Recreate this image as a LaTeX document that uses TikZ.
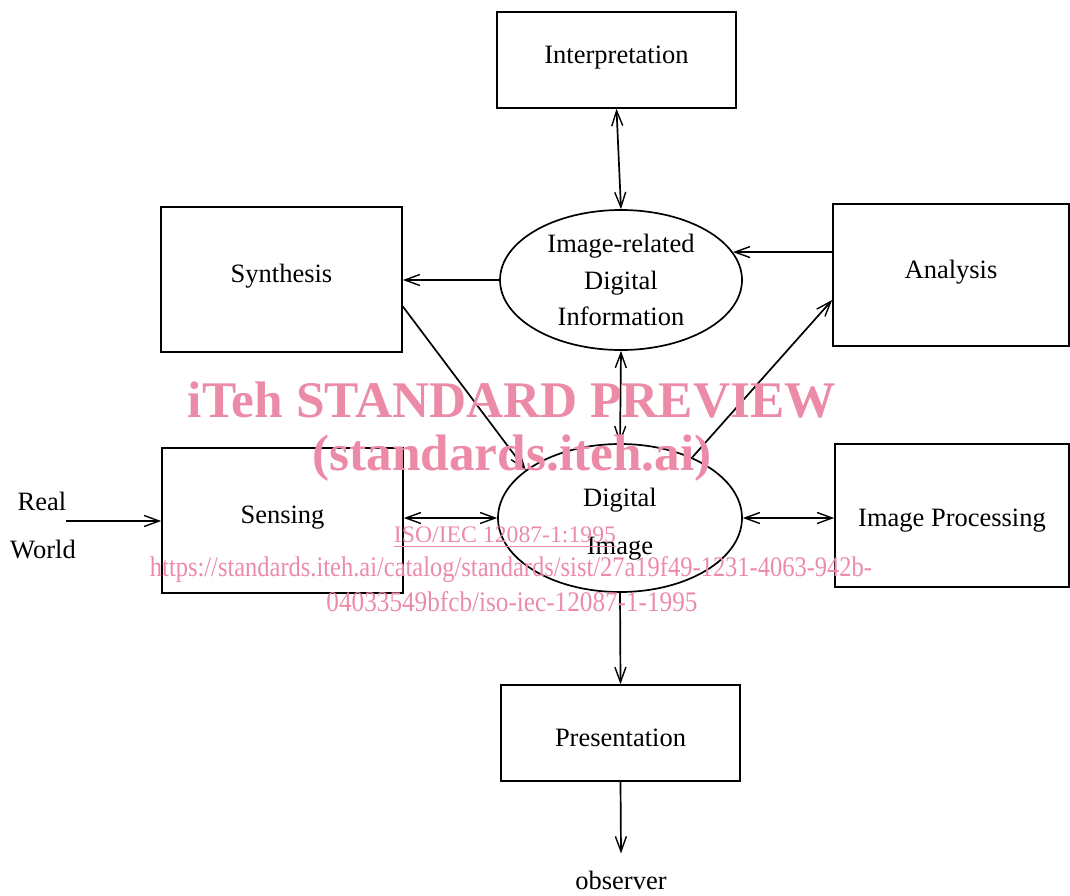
\documentclass[tikz,border=0pt]{standalone}
\usepackage{fontspec}
\setmainfont{Liberation Serif}
\usetikzlibrary{arrows.meta,shapes.geometric}
\definecolor{wm}{RGB}{236,139,168}
\tikzset{
  line/.style={line width=1.7pt},
  tip/.tip={Straight Barb[length=15pt,width=11pt,line width=1.4pt]},
  arr/.style={line, -tip},
  darr/.style={line, tip-tip},
  box/.style={draw, line, inner sep=0pt, font=\fontsize{26.5}{37}\selectfont, text height=12pt, text depth=6pt},
  oval/.style={draw, line, ellipse, inner sep=0pt},
  lbl/.style={font=\fontsize{26.5}{32}\selectfont, inner sep=0pt},
  wmk/.style={text=wm, inner sep=0pt}
}
\begin{document}
\begin{tikzpicture}[x=1pt,y=-1pt]
\useasboundingbox (0,0) rectangle (1070,895);
% boxes
\node[box, minimum width=239pt, minimum height=96pt] (interp) at (616.5,60) {Interpretation};
\node[box, minimum width=241pt, minimum height=145pt] (syn) at (281.5,279.5) {Synthesis};
\node[box, minimum width=236pt, minimum height=142pt] (ana) at (951,275) {Analysis};
\node[box, minimum width=241pt, minimum height=145pt] (sen) at (282.5,520.5) {Sensing};
\node[box, minimum width=234pt, minimum height=143pt, text height=28pt] (proc) at (952,515.5) {Image Processing};
\node[box, minimum width=239pt, minimum height=96pt, text height=32pt] (pres) at (620.5,733) {Presentation};
% ellipses
\node[oval, minimum width=242pt, minimum height=140pt, align=center, font=\fontsize{26.5}{36.5}\selectfont] (info) at (621,280) {Image-related\\Digital\\Information};
\node[oval, minimum width=244pt, minimum height=148pt] (img) at (620,518) {};
\node[lbl, align=center, font=\fontsize{26.5}{48}\selectfont] (imgtxt) at (620,524) {Digital\\Image};
% labels
\node[lbl] (real) at (42,501) {Real};
\node[lbl] (world) at (43,549) {World};
\node[lbl, anchor=base] (obs) at (621,889) {observer};
\coordinate (rw) at (66,521);
% connectors
\draw[darr] (interp.south) -- (info.north);
\draw[arr] (info.west) -- (info.west -| syn.east);
\draw[arr] ([yshift=23pt]ana.west) -- (info.14);
\draw[arr] ([yshift=-27pt]syn.east) -- (img.153);
\draw[arr] (img.40) -- ([yshift=-25pt]ana.west);
\draw[darr] (info.south) -- (img.north);
\draw[darr] (img.west -| sen.east) -- (img.west);
\draw[darr] (img.east) -- (img.east -| proc.west);
\draw[arr] (img.south) -- (pres.north);
\draw[arr] (pres.south) -- ([yshift=17pt]obs.north);
\draw[arr] (rw) -- (rw -| sen.west);
% watermark
\node[wmk] (w1) at (512,400) {\resizebox{648pt}{!}{\bfseries iTeh STANDARD PREVIEW}};
\node[wmk] (w2) at (512,458) {\resizebox{399pt}{!}{\bfseries (standards.iteh.ai)}};
\node[wmk] (w3) at (505,537) {\resizebox{222pt}{!}{\underline{ISO/IEC 12087-1:1995}}};
\node[wmk] (w4) at (511,570) {\resizebox{722pt}{20pt}{https://standards.iteh.ai/catalog/standards/sist/27a19f49-1231-4063-942b-}};
\node[wmk] (w5) at (512,602) {\resizebox{371pt}{20pt}{04033549bfcb/iso-iec-12087-1-1995}};
\end{tikzpicture}
\end{document}
